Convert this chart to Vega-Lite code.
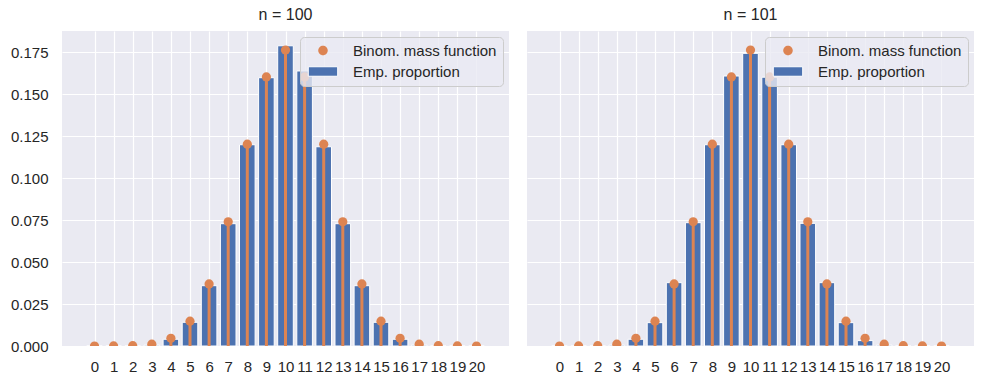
{
  "$schema": "https://vega.github.io/schema/vega-lite/v6.json",
  "padding": {"left": 10, "top": 7, "right": 5, "bottom": 5},
  "background": "white",
  "datasets": {
    "n100": [
      {"k": 0, "emp": 0, "pmf": 0.00000095},
      {"k": 1, "emp": 0, "pmf": 0.0000191},
      {"k": 2, "emp": 0, "pmf": 0.000181},
      {"k": 3, "emp": 0.0005, "pmf": 0.001087},
      {"k": 4, "emp": 0.0040, "pmf": 0.004621},
      {"k": 5, "emp": 0.0141, "pmf": 0.014786},
      {"k": 6, "emp": 0.0359, "pmf": 0.036964},
      {"k": 7, "emp": 0.0728, "pmf": 0.073929},
      {"k": 8, "emp": 0.1198, "pmf": 0.120134},
      {"k": 9, "emp": 0.1597, "pmf": 0.160179},
      {"k": 10, "emp": 0.1787, "pmf": 0.176197},
      {"k": 11, "emp": 0.1637, "pmf": 0.160179},
      {"k": 12, "emp": 0.1186, "pmf": 0.120134},
      {"k": 13, "emp": 0.0728, "pmf": 0.073929},
      {"k": 14, "emp": 0.0359, "pmf": 0.036964},
      {"k": 15, "emp": 0.0141, "pmf": 0.014786},
      {"k": 16, "emp": 0.0040, "pmf": 0.004621},
      {"k": 17, "emp": 0.0005, "pmf": 0.001087},
      {"k": 18, "emp": 0, "pmf": 0.000181},
      {"k": 19, "emp": 0, "pmf": 0.0000191},
      {"k": 20, "emp": 0, "pmf": 0.00000095}
    ],
    "n101": [
      {"k": 0, "emp": 0, "pmf": 0.00000095},
      {"k": 1, "emp": 0, "pmf": 0.0000191},
      {"k": 2, "emp": 0, "pmf": 0.000181},
      {"k": 3, "emp": 0.0005, "pmf": 0.001087},
      {"k": 4, "emp": 0.0040, "pmf": 0.004621},
      {"k": 5, "emp": 0.0139, "pmf": 0.014786},
      {"k": 6, "emp": 0.0377, "pmf": 0.036964},
      {"k": 7, "emp": 0.0734, "pmf": 0.073929},
      {"k": 8, "emp": 0.1198, "pmf": 0.120134},
      {"k": 9, "emp": 0.1607, "pmf": 0.160179},
      {"k": 10, "emp": 0.1742, "pmf": 0.176197},
      {"k": 11, "emp": 0.1600, "pmf": 0.160179},
      {"k": 12, "emp": 0.1198, "pmf": 0.120134},
      {"k": 13, "emp": 0.0730, "pmf": 0.073929},
      {"k": 14, "emp": 0.0377, "pmf": 0.036964},
      {"k": 15, "emp": 0.0139, "pmf": 0.014786},
      {"k": 16, "emp": 0.0032, "pmf": 0.004621},
      {"k": 17, "emp": 0.0005, "pmf": 0.001087},
      {"k": 18, "emp": 0, "pmf": 0.000181},
      {"k": 19, "emp": 0, "pmf": 0.0000191},
      {"k": 20, "emp": 0, "pmf": 0.00000095}
    ]
  },
  "spacing": 18,
  "resolve": {"scale": {"color": "independent"}, "legend": {"color": "independent"}},
  "hconcat": [
    {
      "title": {"text": "n = 100"},
      "width": 447,
      "height": 315,
      "data": {"name": "n100"},
      "layer": [
        {
          "mark": {"type": "bar", "size": 15.6, "stroke": "white", "strokeWidth": 1},
          "encoding": {
            "x": {"field": "k", "type": "quantitative", "scale": {"domain": [-1.44, 21.44], "nice": false, "zero": false}, "axis": {"values": [0,1,2,3,4,5,6,7,8,9,10,11,12,13,14,15,16,17,18,19,20], "title": null, "labelPadding": 13, "labelOverlap": false}},
            "y": {"field": "emp", "type": "quantitative", "scale": {"domain": [0, 0.1875], "nice": false}, "axis": {"values": [0, 0.025, 0.05, 0.075, 0.1, 0.125, 0.15, 0.175], "format": ".3f", "title": null, "labelPadding": 14}},
            "color": {"datum": "Emp. proportion", "type": "nominal", "scale": {"domain": ["Binom. mass function", "Emp. proportion"], "range": ["#dd8452", "#4c72b0"]}, "legend": {"title": null, "encode": {"symbols": {"update": {"shape": {"signal": "datum.value === 'Emp. proportion' ? 'M-1.1,-1H5.1V1H-1.1Z' : 'M1,0A1,1 0 1,0 3,0A1,1 0 1,0 1,0Z'"}, "stroke": {"value": "white"}, "strokeWidth": {"signal": "datum.value === 'Emp. proportion' ? 1 : 0"}}}}}}
          }
        },
        {
          "mark": {"type": "rule", "color": "#dd8452", "strokeWidth": 3, "clip": true},
          "encoding": {
            "x": {"field": "k", "type": "quantitative", "axis": {"values": [0,1,2,3,4,5,6,7,8,9,10,11,12,13,14,15,16,17,18,19,20], "title": null, "labelPadding": 13, "labelOverlap": false}},
            "y": {"field": "pmf", "type": "quantitative"},
            "y2": {"datum": 0}
          }
        },
        {
          "mark": {"type": "point", "filled": true, "opacity": 1, "size": 85, "clip": true},
          "encoding": {
            "x": {"field": "k", "type": "quantitative", "axis": {"values": [0,1,2,3,4,5,6,7,8,9,10,11,12,13,14,15,16,17,18,19,20], "title": null, "labelPadding": 13, "labelOverlap": false}},
            "y": {"field": "pmf", "type": "quantitative"},
            "color": {"datum": "Binom. mass function", "type": "nominal", "legend": {"title": null, "encode": {"symbols": {"update": {"shape": {"signal": "datum.value === 'Emp. proportion' ? 'M-1.1,-1H5.1V1H-1.1Z' : 'M1,0A1,1 0 1,0 3,0A1,1 0 1,0 1,0Z'"}, "stroke": {"value": "white"}, "strokeWidth": {"signal": "datum.value === 'Emp. proportion' ? 1 : 0"}}}}}}
          }
        }
      ]
    },
    {
      "title": {"text": "n = 101"},
      "width": 447,
      "height": 315,
      "data": {"name": "n101"},
      "layer": [
        {
          "mark": {"type": "bar", "size": 15.6, "stroke": "white", "strokeWidth": 1},
          "encoding": {
            "x": {"field": "k", "type": "quantitative", "scale": {"domain": [-1.44, 21.44], "nice": false, "zero": false}, "axis": {"values": [0,1,2,3,4,5,6,7,8,9,10,11,12,13,14,15,16,17,18,19,20], "title": null, "labelPadding": 13, "labelOverlap": false}},
            "y": {"field": "emp", "type": "quantitative", "scale": {"domain": [0, 0.1875], "nice": false}, "axis": {"values": [0, 0.025, 0.05, 0.075, 0.1, 0.125, 0.15, 0.175], "labels": false, "title": null, "minExtent": 0, "labelPadding": 0}},
            "color": {"datum": "Emp. proportion", "type": "nominal", "scale": {"domain": ["Binom. mass function", "Emp. proportion"], "range": ["#dd8452", "#4c72b0"]}, "legend": {"title": null, "encode": {"symbols": {"update": {"shape": {"signal": "datum.value === 'Emp. proportion' ? 'M-1.1,-1H5.1V1H-1.1Z' : 'M1,0A1,1 0 1,0 3,0A1,1 0 1,0 1,0Z'"}, "stroke": {"value": "white"}, "strokeWidth": {"signal": "datum.value === 'Emp. proportion' ? 1 : 0"}}}}}}
          }
        },
        {
          "mark": {"type": "rule", "color": "#dd8452", "strokeWidth": 3, "clip": true},
          "encoding": {
            "x": {"field": "k", "type": "quantitative", "axis": {"values": [0,1,2,3,4,5,6,7,8,9,10,11,12,13,14,15,16,17,18,19,20], "title": null, "labelPadding": 13, "labelOverlap": false}},
            "y": {"field": "pmf", "type": "quantitative"},
            "y2": {"datum": 0}
          }
        },
        {
          "mark": {"type": "point", "filled": true, "opacity": 1, "size": 85, "clip": true},
          "encoding": {
            "x": {"field": "k", "type": "quantitative", "axis": {"values": [0,1,2,3,4,5,6,7,8,9,10,11,12,13,14,15,16,17,18,19,20], "title": null, "labelPadding": 13, "labelOverlap": false}},
            "y": {"field": "pmf", "type": "quantitative"},
            "color": {"datum": "Binom. mass function", "type": "nominal", "legend": {"title": null, "encode": {"symbols": {"update": {"shape": {"signal": "datum.value === 'Emp. proportion' ? 'M-1.1,-1H5.1V1H-1.1Z' : 'M1,0A1,1 0 1,0 3,0A1,1 0 1,0 1,0Z'"}, "stroke": {"value": "white"}, "strokeWidth": {"signal": "datum.value === 'Emp. proportion' ? 1 : 0"}}}}}}
          }
        }
      ]
    }
  ],
  "config": {
    "font": "Liberation Sans",
    "view": {"fill": "#eaeaf2", "stroke": null},
    "axis": {"domain": false, "ticks": false, "grid": true, "gridColor": "white", "gridWidth": 1.2, "labelFontSize": 15, "labelColor": "#262626", "labelFont": "Liberation Sans", "labelOverlap": false},
    "axisX": {"labelOverlap": false, "labelFlush": false},
    "title": {"fontSize": 16, "fontWeight": "normal", "color": "#262626", "font": "Liberation Sans", "offset": 8},
    "legend": {
      "orient": "top-right",
      "offset": 6,
      "padding": 6,
      "fillColor": "rgba(234,234,242,0.8)",
      "strokeColor": "#cccccc",
      "cornerRadius": 4,
      "labelFontSize": 15,
      "labelColor": "#262626",
      "labelFont": "Liberation Sans",
      "labelOffset": 32,
      "labelLimit": 400,
      "rowPadding": 5,
      "symbolSize": 90,
      "symbolOpacity": 1
    }
  }
}
